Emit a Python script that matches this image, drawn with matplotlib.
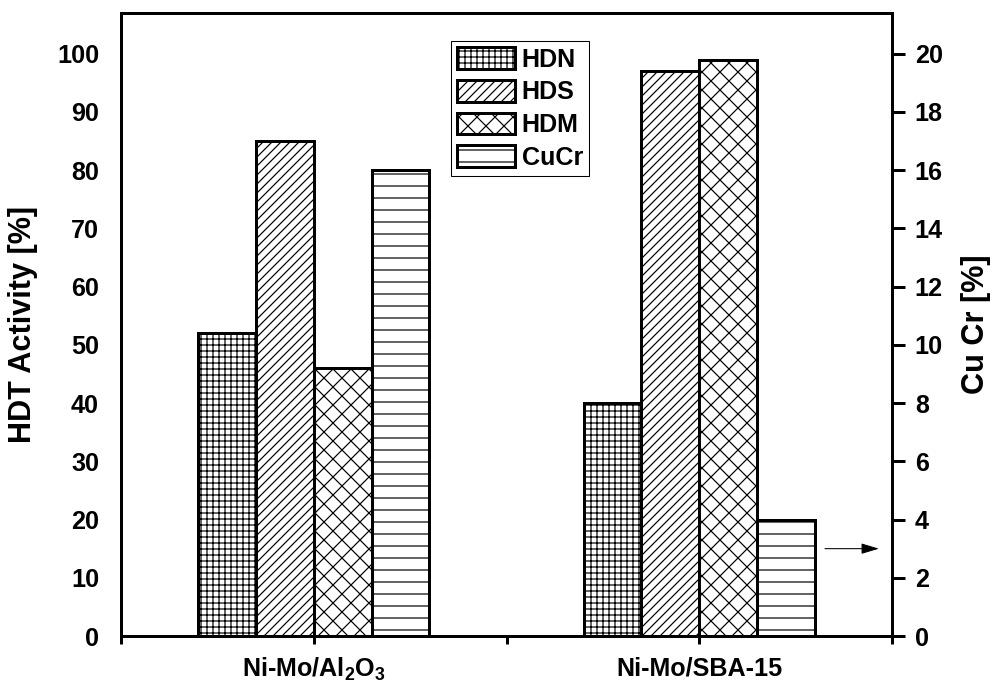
import matplotlib
matplotlib.use('Agg')
import matplotlib.pyplot as plt
import numpy as np

# Catalysts and measured activities
catalysts = ['Ni-Mo/Al$_2$O$_3$', 'Ni-Mo/SBA-15']
hdn = [52, 40]
hds = [85, 97]
hdm = [46, 99]
cucr = [16, 4]          # right axis, Cu Cr [%]
series_names = ['HDN', 'HDS', 'HDM', 'CuCr']
left_ticks = list(range(0, 101, 10))
right_ticks = list(range(0, 21, 2))

DPI = 216
plt.rcParams['font.family'] = ['Liberation Sans', 'DejaVu Sans']
plt.rcParams['font.weight'] = 'bold'
plt.rcParams['mathtext.fontset'] = 'custom'
plt.rcParams['mathtext.rm'] = 'Liberation Sans:bold'
plt.rcParams['mathtext.it'] = 'Liberation Sans:bold'
plt.rcParams['mathtext.bf'] = 'Liberation Sans:bold'
plt.rcParams['hatch.linewidth'] = 0.4
plt.rcParams['hatch.color'] = 'black'

FS = 8.4
LABEL_FS = 10.2

fig = plt.figure(figsize=(995 / DPI, 696 / DPI), dpi=DPI)
ax = fig.add_axes([0.1216, 0.0862, 0.7749, 0.8951])
ax2 = ax.twinx()

x = np.arange(1, len(catalysts) + 1)
w = 0.15
style = dict(facecolor='white', edgecolor='black', linewidth=1.0)
b1 = ax.bar(x - 1.5 * w, hdn, w, hatch='++++++', **style)
b2 = ax.bar(x - 0.5 * w, hds, w, hatch='////////', **style)
b3 = ax.bar(x + 0.5 * w, hdm, w, hatch='xxxx', **style)
b4 = ax2.bar(x + 1.5 * w, cucr, w, hatch='---', **style)

ax.set_xlim(0.5, 2.5)
ax.set_ylim(0, 107)
ax2.set_ylim(0, 21.4)

ax.set_xticks(x, catalysts)
ax.set_xticks([0.5, 1.5, 2.5], minor=True)
ax.tick_params(axis='x', which='both', direction='out', length=2.7, width=1.0,
               pad=4, labelsize=FS)
ax.set_yticks(left_ticks)
ax.tick_params(axis='y', length=0, pad=7.3, labelsize=FS)
ax2.set_yticks(right_ticks)
ax2.tick_params(axis='y', direction='out', length=4.3, width=1.0, pad=3.3,
                labelsize=FS)

for a in (ax, ax2):
    for s in a.spines.values():
        s.set_linewidth(1.0)

ax.set_ylabel('HDT Activity [%]', fontsize=LABEL_FS, fontweight='bold')
ax.yaxis.set_label_coords(-0.108, 0.5)
ax2.set_ylabel('Cu Cr [%]', fontsize=LABEL_FS, fontweight='bold', rotation=90)
ax2.yaxis.set_label_coords(1.09, 0.5)

# Arrow pointing the CuCr bars to the right-hand axis
ax2.annotate('', xy=(2.466, 3), xytext=(2.326, 3),
             arrowprops=dict(arrowstyle='-|>,head_length=0.5,head_width=0.15',
                             color='black', lw=0.35, shrinkA=0, shrinkB=0,
                             mutation_scale=10))

leg = ax2.legend([b1, b2, b3, b4], series_names, loc='upper left',
                 bbox_to_anchor=(0.428, 0.955), frameon=True, fancybox=False,
                 edgecolor='black', framealpha=1, handlelength=2.3,
                 handleheight=0.95, labelspacing=0.32, handletextpad=0.25,
                 borderpad=0.25, borderaxespad=0, fontsize=FS)
leg.get_frame().set_linewidth(0.35)

fig.savefig('out.png', dpi=DPI)
